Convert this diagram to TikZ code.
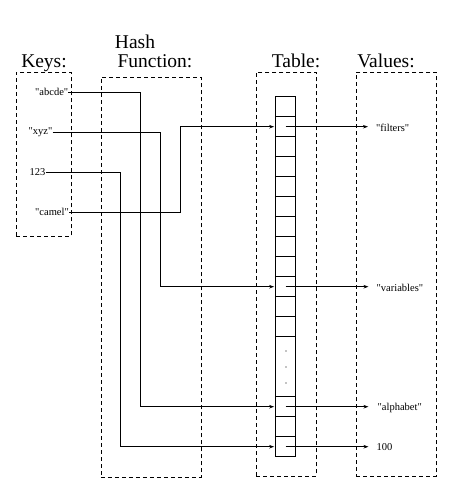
\documentclass[tikz,border=0pt]{standalone}
\usepackage{fontspec}
\setmainfont{Liberation Serif}[Ligatures=TeXOff]
\usetikzlibrary{arrows.meta}
\begin{document}
\begin{tikzpicture}[x=1pt,y=-1pt,
  box/.style={draw,dashed,dash pattern=on 4pt off 3pt,line width=0.9pt},
  title/.style={font=\fontsize{19.5}{20}\selectfont,inner sep=0pt,anchor=base},
  keylbl/.style={font=\fontsize{10.5}{11}\selectfont,inner sep=0pt,anchor=west},
  vallbl/.style={font=\fontsize{10.5}{11}\selectfont,inner sep=0pt,anchor=west},
  cell/.style={draw,line width=0.9pt,minimum width=20pt,minimum height=20pt,inner sep=0pt,outer sep=0pt},
  wire/.style={line width=0.9pt},
  arr/.style={line width=0.9pt,-{Stealth[length=5pt,width=3.5pt]}},
  dotmark/.style={fill,circle,inner sep=0pt,minimum size=1.4pt}]
\useasboundingbox (0,0) rectangle (466,491);
% boxes
\node[box,minimum width=55pt,minimum height=164pt,inner sep=0pt,anchor=north west] (keysbox) at (16,72) {};
\node[box,minimum width=100pt,minimum height=400pt,inner sep=0pt,anchor=north west] (hashbox) at (100.5,77) {};
\node[box,minimum width=60pt,minimum height=404pt,inner sep=0pt,anchor=north west] (tablebox) at (256,72) {};
\node[box,minimum width=80pt,minimum height=404pt,inner sep=0pt,anchor=north west] (valbox) at (356,72) {};
% titles
\node[title] (tkeys) at (44,67.5) {Keys:};
\node[title] (thash) at (135,48.5) {Hash};
\node[title] (tfunc) at (155,67.5) {Function:};
\node[title] (ttable) at (296,67) {Table:};
\node[title] (tvalues) at (386,67) {Values:};
% table cells
\foreach \i in {1,...,12} {
  \node[cell] (c\i) at (285.7,{96.7+20*\i-10}) {};
}
\node[draw,line width=0.9pt,minimum width=20pt,minimum height=60pt,inner sep=0pt] (gap) at (285.7,366.7) {};
\foreach \i/\y in {13/406.7,14/426.7,15/446.7} {
  \node[cell] (c\i) at (285.7,\y) {};
}
\node[dotmark] (d1) at (286,351) {};
\node[dotmark] (d2) at (286,367) {};
\node[dotmark] (d3) at (286,383) {};
% keys
\node[keylbl] (kabc) at (35,92) {"abcde"};
\node[keylbl] (kxyz) at (28.5,132) {"xyz"};
\node[keylbl] (k123) at (29.5,172) {123};
\node[keylbl] (kcam) at (35,212) {"camel"};
% values
\node[vallbl] (vfil) at (376,127.5) {"filters"};
\node[vallbl] (vvar) at (376.5,287.5) {"variables"};
\node[vallbl] (valp) at (377.5,407.5) {"alphabet"};
\node[vallbl] (v100) at (376.5,447.5) {100};
% bend coordinates
\coordinate (b1) at (140,0);
\coordinate (b2) at (160.7,0);
\coordinate (b3) at (120,0);
\coordinate (b4) at (180.3,0);
% key -> table
\draw[wire] (kabc.east) -| (b1 |- c13.west);
\draw[arr,shorten >=1.5pt] (b1 |- c13.west) -- (c13.west);
\draw[wire] (kxyz.east) -| (b2 |- c10.west);
\draw[arr,shorten >=1.5pt] (b2 |- c10.west) -- (c10.west);
\draw[wire] (k123.east) -| (b3 |- c15.west);
\draw[arr,shorten >=1.5pt] (b3 |- c15.west) -- (c15.west);
\draw[wire] (kcam.east) -| (b4 |- c2.west);
\draw[arr,shorten >=1.5pt] (b4 |- c2.west) -- (c2.west);
% table -> values
\draw[arr,shorten >=8pt] (c2.center) -- (c2.center -| vfil.west);
\draw[arr,shorten >=8pt] (c10.center) -- (c10.center -| vvar.west);
\draw[arr,shorten >=9pt] (c13.center) -- (c13.center -| valp.west);
\draw[arr,shorten >=8pt] (c15.center) -- (c15.center -| v100.west);
\end{tikzpicture}
\end{document}
